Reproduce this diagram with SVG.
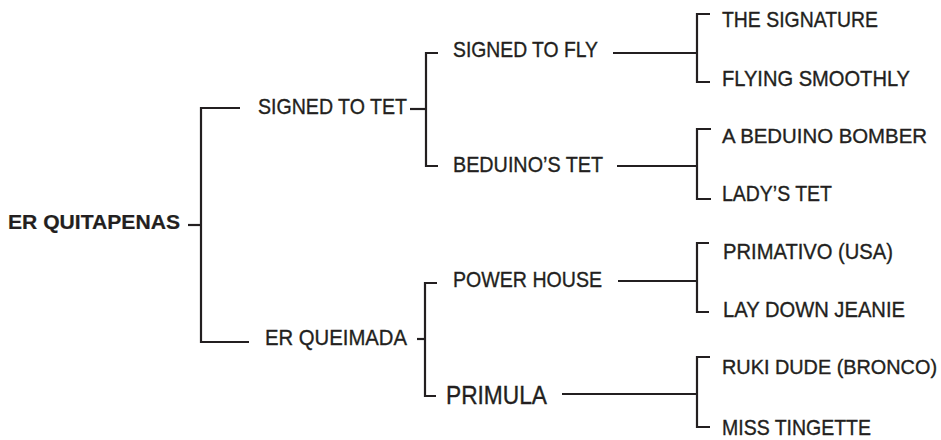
<svg xmlns="http://www.w3.org/2000/svg" width="941" height="440" viewBox="0 0 941 440">
<style>
  .ln { fill: none; stroke: #231f20; stroke-width: 2.2; stroke-linecap: butt; stroke-linejoin: miter; }
  text { font-family: "Liberation Sans", Arial, sans-serif; font-size: 22px; fill: #231f20; stroke: #231f20; stroke-width: 0.35; }
  .root { font-weight: bold; font-size: 20px; stroke-width: 0.2; }
  .big { font-size: 25px; }
  .s21 { font-size: 21px; }
  .s20 { font-size: 20px; }
</style>
<rect width="941" height="440" fill="#ffffff"/>
<g id="connectors">
  <path class="ln" d="M188 225 H201"/>
  <path class="ln" d="M240 108 H201 V342 H249"/>
  <path class="ln" d="M410 109 H426"/>
  <path class="ln" d="M438 53 H426 V166 H438"/>
  <path class="ln" d="M417 339 H425"/>
  <path class="ln" d="M437 283 H425 V396 H436"/>
  <path class="ln" d="M613 53 H697"/>
  <path class="ln" d="M710 14 H697 V82 H710"/>
  <path class="ln" d="M617 166 H697"/>
  <path class="ln" d="M711 129 H697 V199 H711"/>
  <path class="ln" d="M618 281 H697"/>
  <path class="ln" d="M709 243 H697 V312 H709"/>
  <path class="ln" d="M562 394 H697"/>
  <path class="ln" d="M710 357 H697 V427 H710"/>
</g>
<g id="n-er-quitapenas"><text class="root" x="8" y="229" textLength="172" lengthAdjust="spacingAndGlyphs">ER QUITAPENAS</text></g>
<g id="n-signed-to-tet"><text x="258" y="114" textLength="149" lengthAdjust="spacingAndGlyphs">SIGNED TO TET</text></g>
<g id="n-er-queimada"><text x="265" y="345" textLength="142" lengthAdjust="spacingAndGlyphs">ER QUEIMADA</text></g>
<g id="n-signed-to-fly"><text x="453" y="57" textLength="145" lengthAdjust="spacingAndGlyphs">SIGNED TO FLY</text></g>
<g id="n-beduinos-tet"><text x="453" y="172" textLength="150" lengthAdjust="spacingAndGlyphs">BEDUINO’S TET</text></g>
<g id="n-power-house"><text x="453" y="287" textLength="149" lengthAdjust="spacingAndGlyphs">POWER HOUSE</text></g>
<g id="n-primula"><text class="big" x="446" y="404" textLength="101" lengthAdjust="spacingAndGlyphs">PRIMULA</text></g>
<g id="n-the-signature"><text x="722" y="27" textLength="156" lengthAdjust="spacingAndGlyphs">THE SIGNATURE</text></g>
<g id="n-flying-smoothly"><text x="722" y="86" textLength="188" lengthAdjust="spacingAndGlyphs">FLYING SMOOTHLY</text></g>
<g id="n-a-beduino-bomber"><text class="s21" x="722" y="143" textLength="205" lengthAdjust="spacingAndGlyphs">A BEDUINO BOMBER</text></g>
<g id="n-ladys-tet"><text x="722" y="201" textLength="110" lengthAdjust="spacingAndGlyphs">LADY’S TET</text></g>
<g id="n-primativo"><text x="723" y="259" textLength="170" lengthAdjust="spacingAndGlyphs">PRIMATIVO (USA)</text></g>
<g id="n-lay-down-jeanie"><text x="723" y="317" textLength="182" lengthAdjust="spacingAndGlyphs">LAY DOWN JEANIE</text></g>
<g id="n-ruki-dude"><text class="s20" x="722" y="374" textLength="215" lengthAdjust="spacingAndGlyphs">RUKI DUDE (BRONCO)</text></g>
<g id="n-miss-tingette"><text x="722" y="435" textLength="149" lengthAdjust="spacingAndGlyphs">MISS TINGETTE</text></g>
</svg>
